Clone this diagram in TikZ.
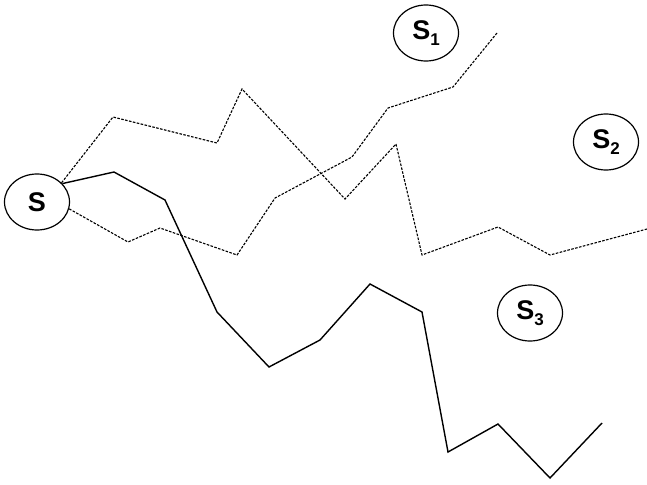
\documentclass[tikz,border=0pt]{standalone}
\usepackage{fontspec}
\setmainfont{Liberation Sans}
\usetikzlibrary{shapes.geometric}

% subscript index set in the text font
\newcommand{\idx}[1]{\raisebox{-6pt}{\fontsize{17}{17}\selectfont #1}}

\begin{document}
\begin{tikzpicture}[
  x=1pt, y=-1pt,
  state/.style={draw, ellipse, line width=1.2pt, minimum width=65pt, minimum height=56pt,
    inner sep=0pt, font=\fontsize{27}{27}\selectfont\bfseries},
  walk/.style={line width=1.4pt, line join=miter},
  dwalk/.style={line width=1.1pt, dash pattern=on 2.6pt off 1.4pt}
]
\useasboundingbox (0,0) rectangle (647,484);

\node[state] (s)  at (37,202) {S};
\node[state] (s1) at (426,33)  {S\idx{1}};
\node[state] (s2) at (606,142) {S\idx{2}};
\node[state] (s3) at (530,313) {S\idx{3}};

% two dashed paths and one solid path leaving s
\draw[dwalk] (s.38) -- (113,117) -- (217,143) -- (242,89) -- (345,199)
  -- (396,144) -- (422,255) -- (498,227) -- (550,255) -- (647,229);
\draw[dwalk] (s.-12) -- (128,242) -- (160,228) -- (237,255) -- (275,198)
  -- (352,157) -- (388,108) -- (453,87) -- (497,33);
\draw[walk] (s.36) -- (114,172) -- (165,200) -- (217,312) -- (269,367)
  -- (320,340) -- (370,284) -- (422,312) -- (448,452) -- (498,424)
  -- (550,478) -- (602,423);
\end{tikzpicture}
\end{document}
